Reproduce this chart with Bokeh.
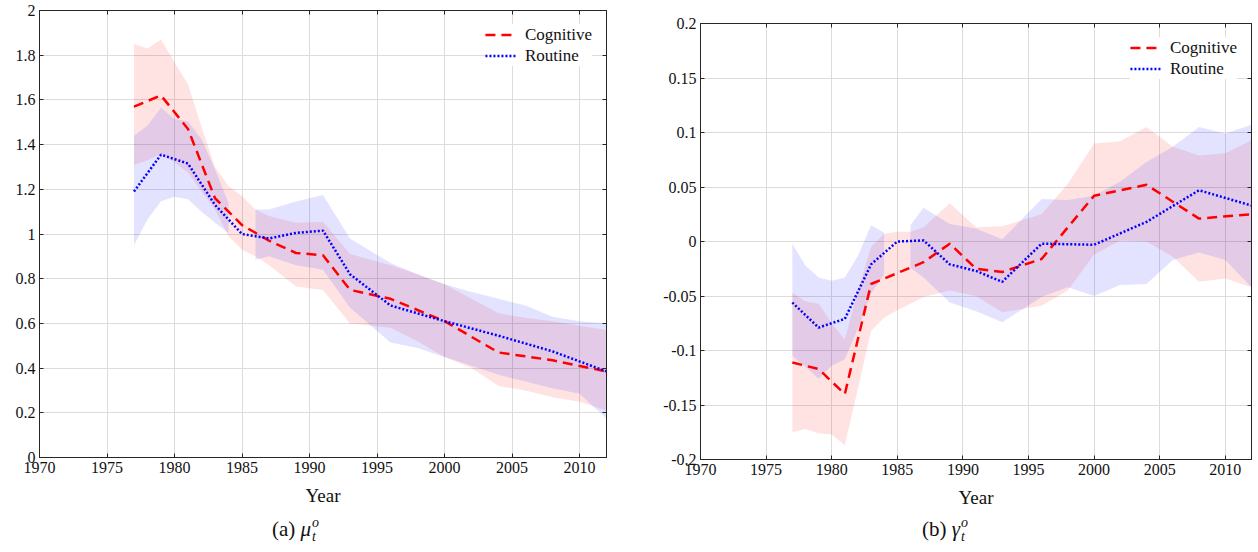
import math
from bokeh.plotting import figure
from bokeh.models import (FixedTicker, LinearAxis, CustomJSTickFormatter, Legend,
                          LegendItem, Range1d, Div)
from bokeh.layouts import row, column
from bokeh.embed import file_html
from bokeh.resources import INLINE

NaN = float("nan")

# ---------------- data ----------------
years = [1977, 1979, 1981, 1983, 1985, 1987, 1989, 1991, 1993, 1996, 2000, 2004, 2008, 2012]
band_years = [1977, 1978, 1979, 1980, 1981, 1982, 1983, 1984, 1985, 1986, 1987, 1989, 1991,
              1993, 1996, 1998, 2000, 2002, 2004, 2006, 2008, 2010, 2012]

# panel (a): mu
mu_cognitive = [1.57, 1.62, 1.47, 1.16, 1.04, 0.97, 0.915, 0.905, 0.75, 0.71, 0.61, 0.47, 0.435, 0.385]
mu_routine = [1.19, 1.355, 1.315, 1.13, 1.0, 0.98, 1.005, 1.015, 0.82, 0.68, 0.61, 0.545, 0.475, 0.385]
mu_cog_hi = [1.85, 1.83, 1.87, 1.77, 1.67, 1.48, 1.30, 1.215, 1.17, 1.11, 1.08, 1.05, 1.055,
             0.91, 0.86, 0.82, 0.775, 0.71, 0.645, 0.625, 0.61, 0.59, 0.57]
mu_cog_lo = [1.31, 1.33, 1.36, 1.32, 1.275, 1.19, 1.11, 0.99, 0.93, 0.90, 0.86, 0.765, 0.75,
             0.60, 0.58, 0.52, 0.45, 0.40, 0.32, 0.30, 0.27, 0.25, 0.21]
mu_rout_hi = [1.44, 1.485, 1.565, 1.515, 1.505, 1.425, 1.29, 1.14, NaN, 1.11, 1.11, 1.145, 1.175,
              0.98, 0.87, 0.82, 0.775, 0.74, 0.71, 0.68, 0.63, 0.61, 0.60]
mu_rout_lo = [0.95, 1.065, 1.147, 1.167, 1.155, 1.10, 1.05, 1.005, NaN, 0.885, 0.90, 0.86, 0.84,
              0.67, 0.515, 0.49, 0.45, 0.41, 0.37, 0.34, 0.31, 0.285, 0.175]

# panel (b): gamma
gam_cognitive = [-0.111, -0.117, -0.140, -0.039, -0.029, -0.019, -0.002, -0.025, -0.028, -0.016,
                 0.042, 0.052, 0.021, 0.025]
gam_routine = [-0.056, -0.079, -0.071, -0.021, 0.0, 0.001, -0.021, -0.027, -0.037, -0.002,
               -0.003, 0.018, 0.047, 0.033]
gam_cog_hi = [-0.047, -0.055, -0.057, -0.075, -0.09, -0.045, -0.005, 0.007, 0.009, 0.009, 0.013,
              0.035, 0.013, 0.014, 0.025, 0.053, 0.09, 0.092, 0.105, 0.087, 0.079, 0.081, 0.093]
gam_cog_lo = [-0.175, -0.172, -0.176, -0.177, -0.187, -0.135, -0.082, -0.07, -0.063, -0.057, -0.051,
              -0.045, -0.05, -0.065, -0.059, -0.045, -0.012, 0.001, 0.0, -0.014, -0.037, -0.034, -0.042]
gam_rout_hi = [-0.002, -0.022, -0.033, -0.036, -0.033, -0.013, 0.015, 0.008, NaN, 0.015, 0.031,
               0.016, 0.012, 0.002, 0.039, 0.038, 0.042, 0.055, 0.073, 0.087, 0.105, 0.099, 0.107]
gam_rout_lo = [-0.105, -0.115, -0.126, -0.114, -0.108, -0.08, -0.048, -0.03, NaN, -0.024, -0.033,
               -0.056, -0.064, -0.074, -0.051, -0.042, -0.05, -0.04, -0.039, -0.017, -0.01, -0.017, -0.042]

x_ticks = [1970, 1975, 1980, 1985, 1990, 1995, 2000, 2005, 2010]
mu_ticks = [0, 0.2, 0.4, 0.6, 0.8, 1.0, 1.2, 1.4, 1.6, 1.8, 2.0]
gam_ticks = [-0.2, -0.15, -0.1, -0.05, 0, 0.05, 0.1, 0.15, 0.2]
series_labels = ["Cognitive", "Routine"]

# ---------------- style ----------------
FONT = "Liberation Serif"
AX = "#262626"
GRID = "#dcdcdc"
RED = "#ff0000"
BLUE = "#0000ff"


def finite_runs(x, lo, hi):
    runs, cur = [], []
    for xi, a, b in zip(x, lo, hi):
        if math.isnan(a) or math.isnan(b):
            if cur:
                runs.append(cur)
            cur = []
        else:
            cur.append((xi, a, b))
    if cur:
        runs.append(cur)
    return runs


def band(p, x, lo, hi, color):
    for r in finite_runs(x, lo, hi):
        p.varea(x=[t[0] for t in r], y1=[t[1] for t in r], y2=[t[2] for t in r],
                fill_color=color, fill_alpha=0.11)


def make_panel(width, y_lo, y_hi, yticks, cog, rout, cog_lo, cog_hi, rout_lo, rout_hi,
               b_left, b_right, b_top, b_bottom):
    p = figure(width=width, height=512, x_range=Range1d(1970, 2012),
               y_range=Range1d(y_lo, y_hi), output_backend="svg", toolbar_location=None,
               min_border_left=b_left, min_border_right=b_right,
               min_border_top=b_top, min_border_bottom=b_bottom)
    p.background_fill_color = "white"
    p.border_fill_color = "white"
    p.outline_line_color = AX
    p.outline_line_width = 1

    fmt = "return String(Math.round(tick*100)/100);"
    p.xaxis.ticker = FixedTicker(ticks=x_ticks)
    p.yaxis.ticker = FixedTicker(ticks=yticks)
    p.xaxis.formatter = CustomJSTickFormatter(code="return String(tick);")
    p.yaxis.formatter = CustomJSTickFormatter(code=fmt)
    for ax in (p.xaxis[0], p.yaxis[0]):
        ax.axis_line_color = AX
        ax.major_tick_line_color = AX
        ax.major_tick_in = 4
        ax.major_tick_out = 0
        ax.minor_tick_in = 0
        ax.minor_tick_out = 0
        ax.major_label_text_font = FONT
        ax.major_label_text_font_size = "16px"
        ax.major_label_text_color = "#111111"
        ax.major_label_standoff = 4
    p.xaxis.axis_label = "Year"
    p.xaxis.axis_label_text_font = FONT
    p.xaxis.axis_label_text_font_size = "19px"
    p.xaxis.axis_label_text_font_style = "normal"
    p.xaxis.axis_label_text_color = "#111111"
    p.xaxis.axis_label_standoff = 9

    # box axes with inward ticks, no labels
    top = LinearAxis(ticker=FixedTicker(ticks=x_ticks), formatter=CustomJSTickFormatter(code="return '';"),
                     major_label_text_font_size="0px", major_label_standoff=0,
                     major_tick_in=4, major_tick_out=0, minor_tick_in=0, minor_tick_out=0,
                     axis_line_color=AX, major_tick_line_color=AX)
    right = LinearAxis(ticker=FixedTicker(ticks=yticks), formatter=CustomJSTickFormatter(code="return '';"),
                       major_label_text_font_size="0px", major_label_standoff=0,
                       major_tick_in=4, major_tick_out=0, minor_tick_in=0, minor_tick_out=0,
                       axis_line_color=AX, major_tick_line_color=AX)
    p.add_layout(top, "above")
    p.add_layout(right, "right")

    p.xgrid.ticker = FixedTicker(ticks=x_ticks)
    p.ygrid.ticker = FixedTicker(ticks=yticks)
    p.xgrid.grid_line_color = GRID
    p.ygrid.grid_line_color = GRID

    band(p, band_years, cog_lo, cog_hi, RED)
    band(p, band_years, rout_lo, rout_hi, BLUE)
    r1 = p.line(years, cog, line_color=RED, line_width=2.5, line_dash="10 6")
    r2 = p.line(years, rout, line_color=BLUE, line_width=2.5, line_dash="2 2")

    leg = Legend(items=[LegendItem(label=series_labels[0], renderers=[r1]),
                        LegendItem(label=series_labels[1], renderers=[r2])],
                 location="top_right")
    leg.margin = 14
    leg.padding = 2
    leg.spacing = 0
    leg.glyph_width = 32
    leg.glyph_height = 21
    leg.label_height = 21
    leg.label_standoff = 8
    leg.label_text_font = FONT
    leg.label_text_font_size = "17px"
    leg.label_text_color = "#111111"
    leg.border_line_color = None
    leg.background_fill_color = "white"
    leg.background_fill_alpha = 1.0
    p.add_layout(leg)
    return p


p1 = make_panel(642, 0, 2, mu_ticks, mu_cognitive, mu_routine, mu_cog_lo, mu_cog_hi,
                mu_rout_lo, mu_rout_hi, b_left=39, b_right=36, b_top=10, b_bottom=55)
p2 = make_panel(612, -0.2, 0.2, gam_ticks, gam_cognitive, gam_routine, gam_cog_lo, gam_cog_hi,
                gam_rout_lo, gam_rout_hi, b_left=58, b_right=3, b_top=23, b_bottom=53)


def caption(letter, sym, offset, width):
    html = ('<div style="position:relative; left:%dpx; padding-top:4px; font-family:\'%s\'; '
            'font-size:21px; line-height:26px; color:#111; white-space:nowrap;">(%s) <i>%s</i>'
            '<span style="display:inline-flex; flex-direction:column; vertical-align:9px; '
            'font-size:14px; line-height:14px; font-style:italic; margin-left:1px;">'
            '<span>o</span><span>t</span></span></div>') % (offset, FONT, letter, sym)
    return Div(text=html, width=width, height=40, margin=0)


d1 = caption("a", "μ", 272, 642)
d2 = caption("b", "γ", 280, 612)

layout = row(column(p1, d1), column(p2, d2))
open("out.html", "w").write(file_html(layout, INLINE))
